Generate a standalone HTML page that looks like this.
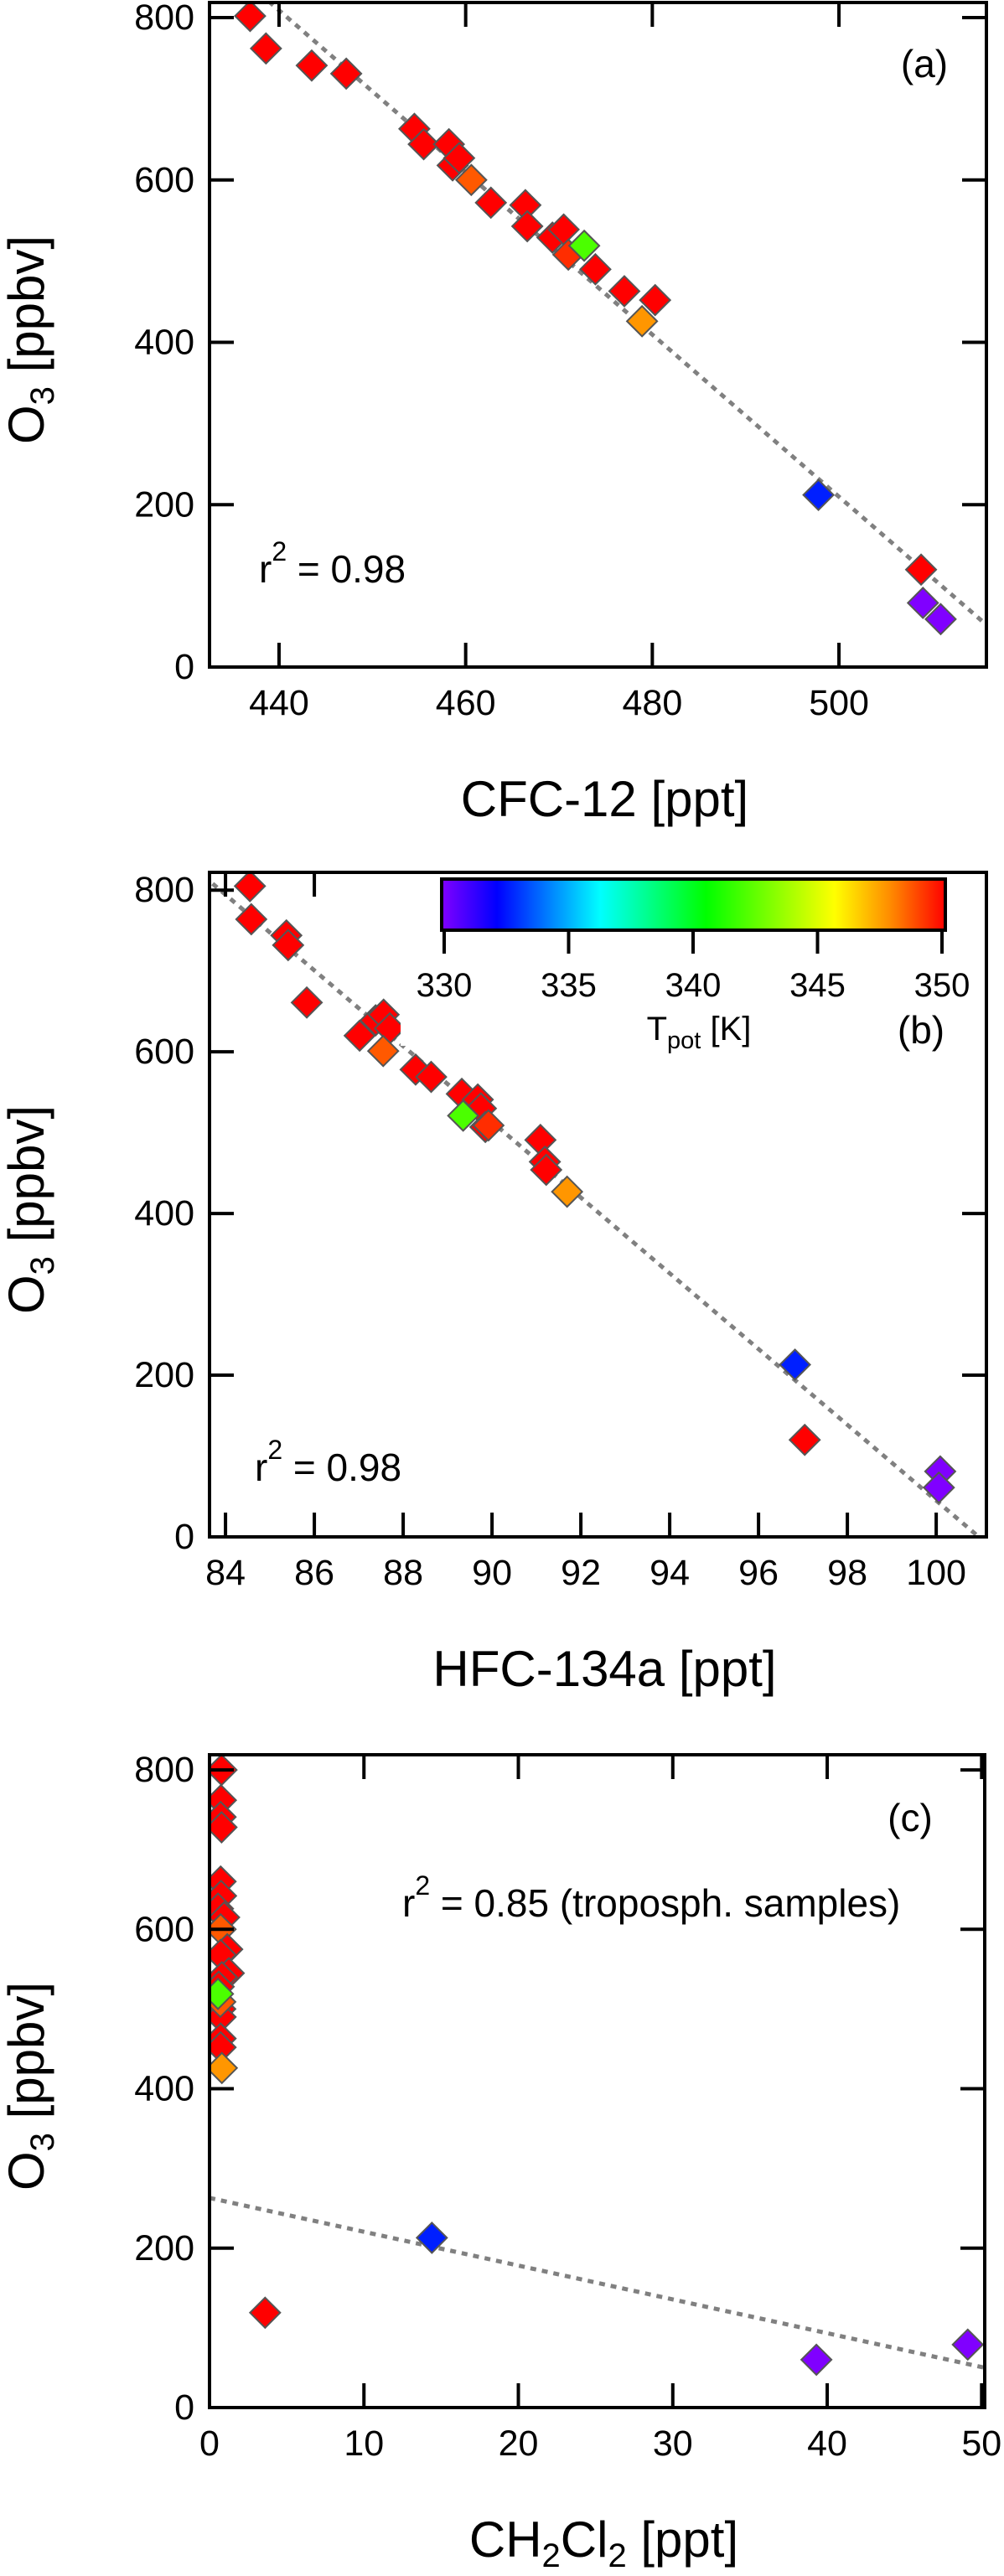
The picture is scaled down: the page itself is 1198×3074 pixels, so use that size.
<!DOCTYPE html>
<html><head><meta charset="utf-8"><style>
html,body{margin:0;padding:0;background:#fff;}
svg{display:block;}
text{font-family:"Liberation Sans",Arial,sans-serif;fill:#000;}
</style></head><body>
<svg id="fig" xmlns="http://www.w3.org/2000/svg" width="1198" height="3074" viewBox="0 0 1198 3074">
<defs>
<linearGradient id="cbgrad" x1="0" x2="1" y1="0" y2="0">
<stop offset="0" stop-color="#8000ff"/>
<stop offset="0.11" stop-color="#0000ff"/>
<stop offset="0.315" stop-color="#00ffff"/>
<stop offset="0.525" stop-color="#00ff00"/>
<stop offset="0.78" stop-color="#ffff00"/>
<stop offset="0.89" stop-color="#ff8c00"/>
<stop offset="1" stop-color="#ff0000"/>
</linearGradient>
</defs>
</svg>
<script>
// ---- Panel (a): CFC-12 vs O3 ----
const aX = [436.9,438.6,443.5,447.2,454.5,455.5,458.2,458.6,459.3,460.6,462.7,466.4,466.6,469.3,470.5,471.0,473.9,477.0,480.3,478.9,472.7,497.8,508.8,509.0,510.9];
const aY = [802,762,741,731,663,644,644,618,627,600,572,569,543,529,539,508,490,463,452,426,519,212,120,79,59];
const aT = [350,350,350,350,350,350,350,350,350,348.6,350,350,350,350,350,349.3,350,350,350,347.6,342,332.7,350,330,330];
const aFitX = [438.9,515.8];
const aFitY = [820,52];
const aXTicks = [440,460,480,500];
const aYTicks = [0,200,400,600,800];
// ---- Panel (b): HFC-134a vs O3 ----
const bX = [84.55,84.58,85.37,85.41,85.83,87.02,87.38,87.56,87.7,87.55,88.28,88.63,89.32,89.68,89.75,89.85,89.92,89.35,91.09,91.19,91.22,91.69,96.82,97.04,100.09,100.06];
const bY = [805,764,744,732,661,620,639,646,629,601,578,569,548,541,530,507,509,521,491,464,454,427,213,120,81,61];
const bT = [350,350,350,350,350,350,350,350,350,348.6,350,350,350,350,350,350,349.3,342,350,350,350,347.6,332.7,350,330,330];
const bFitX = [83.71,100.96];
const bFitY = [808,0];
const bXTicks = [84,86,88,90,92,94,96,98,100];
const bYTicks = [0,200,400,600,800];
// ---- Panel (c): CH2Cl2 vs O3 ----
const cX = [0.78,0.74,0.72,0.78,0.72,0.75,0.55,0.95,0.72,1.15,0.72,1.25,0.8,0.6,0.7,0.72,0.72,0.72,0.7,0.55,0.8,3.6,14.4,39.3,49.1];
const cY = [800,762,741,728,660,642,626,615,600,575,568,545,540,528,500,490,463,452,509,519,426,119,213,60,79];
const cT = [350,350,350,350,350,350,350,350,348.6,350,350,350,350,350,350,350,350,350,348.6,342,347.6,350,332.7,330,330];
const cFitX = [0,50.2];
const cFitY = [263,50];
const cXTicks = [0,10,20,30,40,50];
const cYTicks = [0,200,400,600,800];
// ---- Colour bar ----
const cbTicks = [330,335,340,345,350];

const NS = "http://www.w3.org/2000/svg";
const svg = document.getElementById('fig');
function mk(tag, attrs, parent){
  const e = document.createElementNS(NS, tag);
  for (const k in attrs) e.setAttribute(k, attrs[k]);
  (parent||svg).appendChild(e);
  return e;
}
const stops = [[330,[128,0,255]],[332.2,[0,0,255]],[336.3,[0,255,255]],[340.5,[0,255,0]],[345.6,[255,255,0]],[347.8,[255,140,0]],[350,[255,0,0]]];
function tcolor(t){
  if (t<=stops[0][0]) return 'rgb('+stops[0][1].join(',')+')';
  for (let i=1;i<stops.length;i++){
    if (t<=stops[i][0]){
      const f=(t-stops[i-1][0])/(stops[i][0]-stops[i-1][0]);
      const c=stops[i-1][1].map((v,j)=>Math.round(v+(stops[i][1][j]-v)*f));
      return 'rgb('+c.join(',')+')';
    }
  }
  return 'rgb(255,0,0)';
}

function panel(p){
  const g = mk('g', {});
  
  
  const sx = v => p.L + (v - p.xd[0])/(p.xd[1]-p.xd[0])*(p.R-p.L);
  const sy = v => p.B - (v - p.yd[0])/(p.yd[1]-p.yd[0])*(p.B-p.T);
  const cid = 'clip-'+p.name;
  const cp = mk('clipPath', {id:cid}, g);
  mk('rect', {x:p.L, y:p.T, width:p.R-p.L, height:p.B-p.T}, cp);
  const fit = mk('line', {x1:sx(p.fx[0]), y1:sy(p.fy[0]), x2:sx(p.fx[1]), y2:sy(p.fy[1]), stroke:'#808080', 'stroke-width':5, 'stroke-dasharray':'7 7', 'clip-path':'url(#'+cid+')'}, g);
  
  
  const pg = mk('g', {'clip-path':'url(#'+cid+')'}, g);
  for (let i=0;i<p.x.length;i++){
    const cx=sx(p.x[i]), cy=sy(p.y[i]), r=18;
    const d = mk('polygon', {points:`${cx},${cy-r} ${cx+r},${cy} ${cx},${cy+r} ${cx-r},${cy}`, fill:tcolor(p.t[i]), stroke:'#555', 'stroke-width':2}, pg);
    
    
  }
  if (p.mask){
    const m = mk('rect', {x:p.mask[0], y:p.mask[1], width:p.mask[2], height:p.mask[3], fill:'#fff'}, g);
    
    
  }
  const tl = 29;
  p.xt.forEach(v=>{
    const x=sx(v);
    if (!p.topTicks || p.topTicks.indexOf(v)>=0) mk('line',{x1:x,y1:p.T,x2:x,y2:p.T+tl,stroke:'#000','stroke-width':4},g);
    mk('line',{x1:x,y1:p.B,x2:x,y2:p.B-tl,stroke:'#000','stroke-width':4},g);
    const t = mk('text',{x:x,y:p.B+43,'font-size':43,'text-anchor':'middle','dominant-baseline':'central'},g);
    t.textContent = v;
    
    
  });
  p.yt.forEach(v=>{
    const y=sy(v);
    mk('line',{x1:p.L,y1:y,x2:p.L+tl,y2:y,stroke:'#000','stroke-width':4},g);
    if (v>0 && (!p.rightTicks || p.rightTicks.indexOf(v)>=0)) mk('line',{x1:p.R,y1:y,x2:p.R-tl,y2:y,stroke:'#000','stroke-width':4},g);
    const t = mk('text',{x:232,y:y,'font-size':43,'text-anchor':'end','dominant-baseline':'central'},g);
    t.textContent = v;
    
    
  });
  const fr = mk('rect',{x:p.L,y:p.T,width:p.R-p.L,height:p.B-p.T,fill:'none',stroke:'#000','stroke-width':4},g);
  
  
  const yc = (p.T+p.B)/2 + 6;
  const yt = mk('text',{x:0,y:0,'font-size':60,'text-anchor':'middle',transform:`translate(52,${yc}) rotate(-90)`},g);
  yt.innerHTML = 'O<tspan font-size="40" dy="12">3</tspan><tspan dy="-12"> [ppbv]</tspan>';
  
  
  const xt = mk('text',{x:(p.L+p.R)/2 + 8,y:p.B+178,'font-size':60,'text-anchor':'middle'},g);
  xt.innerHTML = p.xtitle;
  
  
  const pl = mk('text',{x:p.lab[0],y:p.lab[1],'font-size':46,'text-anchor':'middle'},g);
  pl.textContent = p.label;
  
  
  const r2 = mk('text',{x:p.r2[0],y:p.r2[1],'font-size':46},g);
  r2.innerHTML = 'r<tspan font-size="32" dy="-26">2</tspan><tspan dy="26"> = '+p.r2text+'</tspan>';
  
  
  return {sx, sy, g};
}

panel({name:'panel-a-cfc12', L:250,R:1177,T:3,B:796, xd:[432.55,515.8], yd:[0,818.6],
  x:aX,y:aY,t:aT,fx:aFitX,fy:aFitY,xt:aXTicks,yt:aYTicks,
  xtitle:'CFC-12 [ppt]', label:'(a)', lab:[1103,92], r2:[309,695], r2text:'0.98'});

panel({name:'panel-b-hfc134a', L:250,R:1177,T:1041,B:1834, xd:[83.64,101.13], yd:[0,822],
  x:bX,y:bY,t:bT,fx:bFitX,fy:bFitY,xt:bXTicks,yt:bYTicks, topTicks:[84,86], rightTicks:[200,400],
  mask:[478,1043,697,205],
  xtitle:'HFC-134a [ppt]', label:'(b)', lab:[1099,1245], r2:[304,1767], r2text:'0.98'});

panel({name:'panel-c-ch2cl2', L:250,R:1175,T:2094,B:2873, xd:[0,50.2], yd:[0,819],
  x:cX,y:cY,t:cT,fx:cFitX,fy:cFitY,xt:cXTicks,yt:cYTicks,
  xtitle:'CH<tspan font-size="40" dy="12">2</tspan><tspan dy="-12">Cl</tspan><tspan font-size="40" dy="12">2</tspan><tspan dy="-12"> [ppt]</tspan>',
  label:'(c)', lab:[1086,2185], r2:[480,2287], r2text:'0.85 (troposph. samples)'});

const cbL=527, cbR=1128, cbT=1049, cbB=1110;
const cbx = v => 530 + (v-330)/20*(1124-530);
const cb = mk('rect',{x:cbL,y:cbT,width:cbR-cbL,height:cbB-cbT,fill:'url(#cbgrad)',stroke:'#000','stroke-width':4});


cbTicks.forEach(v=>{
  mk('line',{x1:cbx(v),y1:cbB,x2:cbx(v),y2:cbB+28,stroke:'#000','stroke-width':4});
  const t = mk('text',{x:cbx(v),y:1176,'font-size':40,'text-anchor':'middle','dominant-baseline':'central'});
  t.textContent = v;
  
  
});
const ct = mk('text',{x:834,y:1241,'font-size':40,'text-anchor':'middle'});
ct.innerHTML = 'T<tspan font-size="29" dy="10">pot</tspan><tspan dy="-10"> [K]</tspan>';


</script>
</body></html>
